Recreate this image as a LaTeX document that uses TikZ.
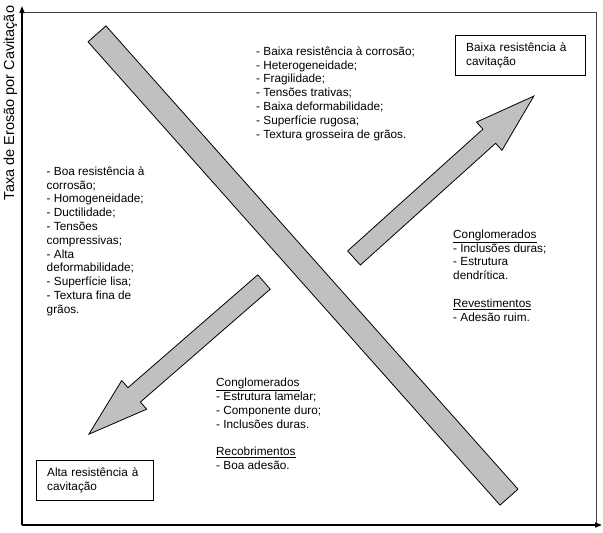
\documentclass[tikz,border=0pt]{standalone}
\usepackage{fontspec}
\setmainfont{Liberation Sans}
\usetikzlibrary{arrows.meta}
\definecolor{bargray}{RGB}{192,192,192}
\tikzset{
    list-text/.style = {anchor=north west, inner sep=0pt, align=left, font=\fontsize{11.8}{13.8}\selectfont},
    res-box/.style = {draw, thin, anchor=north west, align=left, inner xsep=11pt, minimum height=40pt, font=\fontsize{11.8}{13.8}\selectfont},
    grey-bar/.style = {draw=black, fill=bargray, line width=0.8pt},
    axis-line/.style = {line width=1.4pt, -{Triangle[length=7pt,width=5pt]}},
    plot-frame/.style = {draw=black!75, line width=0.8pt},
}
% block arrow: tail point, angle, length
\newcommand{\fatarrow}[3]{%
  \draw[grey-bar, shift={#1}, rotate=#2] (0,-9.5) -- ({#3-60},-9.5) -- ({#3-60},-19) -- (#3,0)
     -- ({#3-60},19) -- ({#3-60},9.5) -- (0,9.5) -- cycle;}

\begin{document}
\begin{tikzpicture}[x=1pt,y=-1pt]
\useasboundingbox (0,0) rectangle (603,533);

% axes and frame
\coordinate (origin) at (22,525);
\coordinate (ytop) at (22,6);
\coordinate (xend) at (602,525);
\draw[plot-frame] (22,12) rectangle (596,525);
\draw[axis-line] (origin) -- (ytop);
\draw[axis-line] (origin) -- (xend);
\node[rotate=90, anchor=base, font=\fontsize{14.5}{16}\selectfont] (ylabel) at (14,103) {Taxa de Erosão por Cavitação};

% arrows
\node[grey-bar, inner sep=0pt, minimum width=620pt, minimum height=24pt, rotate=-48.35] (longbar) at (303,265.5) {};
\fatarrow{(354,258)}{42}{242}
\fatarrow{(264,282)}{221}{232}

% boxes
\node[res-box, text width=108pt] (lowres) at (455,35) {Baixa resistência à\\cavitação};
\node[res-box, text width=95pt] (highres) at (36,460) {Alta resistência à\\cavitação};

% lists
\node[list-text] (toplist) at (256,46.5) {- Baixa resistência à corrosão;\\- Heterogeneidade;\\- Fragilidade;\\- Tensões trativas;\\- Baixa deformabilidade;\\- Superfície rugosa;\\- Textura grosseira de grãos.};
\node[list-text] (leftlist) at (46.5,166.5) {- Boa resistência à\\corrosão;\\- Homogeneidade;\\- Ductilidade;\\- Tensões\\compressivas;\\- Alta\\deformabilidade;\\- Superfície lisa;\\- Textura fina de\\grãos.};
\node[list-text] (rightlist) at (453,229.5) {\underline{Conglomerados}\\- Inclusões duras;\\- Estrutura\\dendrítica.\\[13.8pt]\underline{Revestimentos}\\- Adesão ruim.};
\node[list-text] (bottomlist) at (216,378) {\underline{Conglomerados}\\- Estrutura lamelar;\\- Componente duro;\\- Inclusões duras.\\[13.8pt]\underline{Recobrimentos}\\- Boa adesão.};
\end{tikzpicture}
\end{document}
